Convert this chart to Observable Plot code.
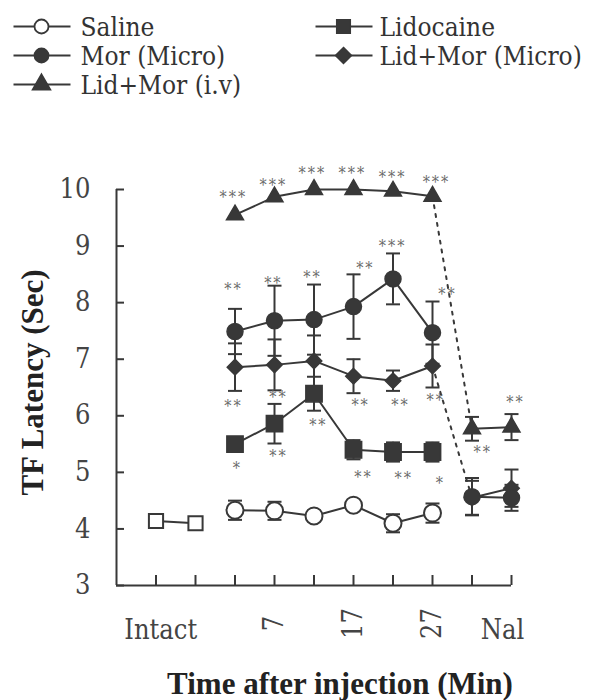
<!DOCTYPE html>
<html><head><meta charset="utf-8">
<script src="https://cdn.jsdelivr.net/npm/d3@7"></script>
<script src="https://cdn.jsdelivr.net/npm/@observablehq/plot@0.6"></script>
<style>
body{margin:0;background:#fff;}
#wrap{width:600px;height:700px;position:relative;}
#legend svg, #chart svg{display:block;}
svg text.reg{font-family:"DejaVu Serif",serif;font-stretch:condensed;}
</style></head><body>
<div id="wrap"><div id="legend"></div><div id="chart"></div></div>
<script>
// ---- data ----
const xTicks = [1, 2, 3, 4, 5, 6, 7, 8, 9, 10];
const yTicks = [3, 4, 5, 6, 7, 8, 9, 10];
const xTickLabels = ["Intact", "Nal"];
const xTickLabelPos = [1.12, 9.77];
const xTimeLabels = ["7", "17", "27"];
const xTimeLabelPos = [4, 6, 8];

const intactX = [1, 2];
const timeX = [3, 4, 5, 6, 7, 8];
const nalX = [9, 10];

const intactY = [4.14, 4.10];
const salineY = [4.33, 4.32, 4.23, 4.42, 4.10, 4.28];
const salineSem = [0.17, 0.16, 0, 0, 0.16, 0.17];
const lidoY = [5.5, 5.86, 6.39, 5.4, 5.36, 5.36];
const lidoSem = [0, 0.35, 0.3, 0.17, 0.17, 0.17];
const morY = [7.49, 7.68, 7.7, 7.93, 8.42, 7.47];
const morSem = [0.4, 0.62, 0.62, 0.57, 0.45, 0.55];
const morNalY = [4.57, 4.55];
const morNalSem = [0.33, 0.23];
const lidMorY = [6.86, 6.9, 6.97, 6.7, 6.62, 6.88];
const lidMorSem = [0.42, 0.45, 0.45, 0.3, 0.18, 0.38];
const lidMorNalY = [4.55, 4.72];
const lidMorNalSem = [0.3, 0.33];
const ivY = [9.55, 9.87, 10.0, 10.0, 9.97, 9.88];
const ivSem = [0, 0, 0, 0, 0, 0];
const ivNalY = [5.77, 5.8];
const ivNalSem = [0.21, 0.23];

const annX = [2.96, 3.97, 4.96, 5.97, 6.99, 8.1,
              2.96, 3.97, 4.96, 6.3, 6.99, 8.38,
              2.96, 3.06, 4.1, 4.1, 5.11, 6.25, 7.27, 8.2,
              6.18, 7.19, 8.08,
              9.27, 10.1];
const annY = [9.86, 10.07, 10.28, 10.28, 10.21, 10.12,
              8.22, 8.34, 8.43, 8.6, 8.98, 8.13,
              6.15, 5.07, 6.31, 5.28, 5.83, 4.91, 4.88, 4.8,
              6.17, 6.17, 6.27,
              5.35, 6.22];
const annT = ["***", "***", "***", "***", "***", "***",
              "**", "**", "**", "**", "***", "**",
              "**", "*", "**", "**", "**", "**", "**", "*",
              "**", "**", "**",
              "**", "**"];

const legendNames = ["Saline", "Mor (Micro)", "Lid+Mor (i.v)", "Lidocaine", "Lid+Mor (Micro)"];
const legendSymbols = ["circle", "circle", "triangle", "square", "diamond2"];
const legendOpen = [true, false, false, false, false];

// ---- styles ----
const ink = "#383838";
const font = "'Liberation Serif', 'DejaVu Serif', serif";
const legendR = {circle: 7, triangle: 6.5, square: 7.5, diamond2: 7};
function restyle(svgNode) {
  const s = d3.select(svgNode);
  s.selectAll("text").filter(function() { return /^\*+$/.test(this.textContent); }).attr("letter-spacing", 2);
  s.selectAll("text").filter(function() { return this.getAttribute("font-weight") !== "bold" && !this.closest("[font-weight=bold]"); }).classed("reg", true);
  return svgNode;
}

// ---- legend (drawn with Plot in a pixel frame) ----
const colIcon = [12, 314], colText = [80, 379], rowBase = [35, 64, 93];
const legendItems = legendNames.map((name, i) => {
  const col = i < 3 ? 0 : 1, row = i < 3 ? i : i - 3;
  return {name, symbol: legendSymbols[i], open: legendOpen[i],
          x0: colIcon[col] + 1, x1: colIcon[col] + 58, xm: colIcon[col] + 29,
          xt: colText[col], yb: rowBase[row], ym: rowBase[row] - 9};
});
const legendPlot = Plot.plot({
  width: 600, height: 110, margin: 0,
  x: {domain: [0, 600], range: [0, 600], axis: null},
  y: {domain: [0, 110], range: [0, 110], axis: null},
  style: {fontFamily: font, background: "#fff"},
  marks: [
    Plot.link(legendItems, {x1: "x0", x2: "x1", y1: "ym", y2: "ym", stroke: ink, strokeWidth: 2}),
    ...Object.keys(legendR).map(sym => Plot.dot(legendItems.filter(d => d.symbol === sym), {
      x: "xm", y: "ym", symbol: sym, r: legendR[sym],
      fill: d => d.open ? "#fff" : ink, stroke: ink, strokeWidth: 1.8})),
    Plot.text(legendItems, {x: "xt", y: "yb", text: "name", textAnchor: "start", lineAnchor: "bottom", fontSize: 26, fill: "#333"})
  ]
});
document.getElementById("legend").appendChild(restyle(legendPlot));

// ---- rows ----
function rows(xs, ys, sems) { return xs.map((x, i) => ({x, y: ys[i], sem: sems ? sems[i] : 0})); }
const intactRows = rows(intactX, intactY);
const salineRows = rows(timeX, salineY, salineSem);
const lidoRows = rows(timeX, lidoY, lidoSem);
const morRows = rows(timeX, morY, morSem);
const morNalRows = rows(nalX, morNalY, morNalSem);
const lidMorRows = rows(timeX, lidMorY, lidMorSem);
const lidMorNalRows = rows(nalX, lidMorNalY, lidMorNalSem);
const ivRows = rows(timeX, ivY, ivSem);
const ivNalRows = rows(nalX, ivNalY, ivNalSem);
const allRows = [salineRows, lidoRows, morRows, morNalRows, lidMorRows, lidMorNalRows, ivRows, ivNalRows].flat();
const errRows = allRows.filter(d => d.sem > 0);
const ann = annT.map((t, i) => ({x: annX[i], y: annY[i], t}));

const cap = {draw(ctx) { ctx.moveTo(-7, 0); ctx.lineTo(7, 0); }};
const lineOpt = {x: "x", y: "y", stroke: ink, strokeWidth: 2};

const plot = Plot.plot({
  width: 600, height: 590,
  marginLeft: 116, marginRight: 89, marginTop: 79, marginBottom: 115,
  x: {domain: [0, 10], axis: null},
  y: {domain: [3, 10], axis: null},
  style: {fontFamily: font, background: "#fff", color: ink},
  marks: [
    Plot.ruleX([0], {stroke: ink, strokeWidth: 2}),
    Plot.ruleY([3], {stroke: ink, strokeWidth: 2}),
    Plot.axisY({ticks: yTicks, tickSize: -8, tickPadding: 34, fontSize: 27, tickFormat: d => d, label: null, stroke: ink, strokeWidth: 2, fill: "#444"}),
    Plot.axisX({ticks: xTicks, tickSize: -10, tickFormat: () => "", label: null, stroke: ink, strokeWidth: 2}),
    // error bars
    Plot.ruleX(errRows, {x: "x", y1: d => d.y - d.sem, y2: d => d.y + d.sem, stroke: ink, strokeWidth: 2}),
    Plot.dot(errRows, {x: "x", y: d => d.y + d.sem, symbol: cap, stroke: ink, strokeWidth: 2, fill: "none"}),
    Plot.dot(errRows, {x: "x", y: d => d.y - d.sem, symbol: cap, stroke: ink, strokeWidth: 2, fill: "none"}),
    // lines
    Plot.line(intactRows, lineOpt),
    Plot.line(salineRows, lineOpt),
    Plot.line(lidoRows, lineOpt),
    Plot.line(morRows, lineOpt),
    Plot.line(morNalRows, lineOpt),
    Plot.line(lidMorRows, lineOpt),
    Plot.line(lidMorNalRows, lineOpt),
    Plot.line(ivRows, lineOpt),
    Plot.line(ivNalRows, lineOpt),
    Plot.line([ivRows[5], ivNalRows[0]], {...lineOpt, strokeDasharray: "3,6"}),
    Plot.line([lidMorRows[5], lidMorNalRows[0]], {...lineOpt, strokeDasharray: "3,6"}),
    // markers
    Plot.dot(intactRows, {x: "x", y: "y", symbol: "square", r: 8, fill: "#fff", stroke: ink, strokeWidth: 2}),
    Plot.dot(salineRows, {x: "x", y: "y", symbol: "circle", r: 8.5, fill: "#fff", stroke: ink, strokeWidth: 2}),
    Plot.dot(lidoRows, {x: "x", y: "y", symbol: "square", r: 9.2, fill: ink, stroke: ink}),
    Plot.dot(lidMorRows.concat(lidMorNalRows), {x: "x", y: "y", symbol: "diamond2", r: 7, fill: ink, stroke: ink}),
    Plot.dot(morRows.concat(morNalRows), {x: "x", y: "y", symbol: "circle", r: 8, fill: ink, stroke: ink}),
    Plot.dot(ivRows.concat(ivNalRows), {x: "x", y: "y", symbol: "triangle", r: 6.3, fill: ink, stroke: ink}),
    // significance marks
    Plot.text(ann, {x: "x", y: "y", text: "t", fontSize: 16, fill: "#6a6a6a", lineAnchor: "middle"}),
    // x tick labels
    Plot.text(xTickLabels, {x: (d, i) => xTickLabelPos[i], text: d => d, frameAnchor: "bottom", dy: 45, lineAnchor: "middle", fontSize: 27, fill: "#444"}),
    Plot.text(xTimeLabels, {x: (d, i) => xTimeLabelPos[i], text: d => d, frameAnchor: "bottom", dy: 38, rotate: -90, textAnchor: "middle", lineAnchor: "middle", fontSize: 27, fill: "#444"}),
    // axis titles
    Plot.text(["Time after injection (Min)"], {frameAnchor: "bottom", dx: 26, dy: 108, lineAnchor: "bottom", fontSize: 31, fontWeight: "bold", fill: "#222"}),
    Plot.text(["TF Latency (Sec)"], {frameAnchor: "left", dx: -83, dy: -5, rotate: -90, textAnchor: "middle", lineAnchor: "middle", fontSize: 31, fontWeight: "bold", fill: "#222"})
  ]
});
document.getElementById("chart").appendChild(restyle(plot));
</script>
</body></html>
